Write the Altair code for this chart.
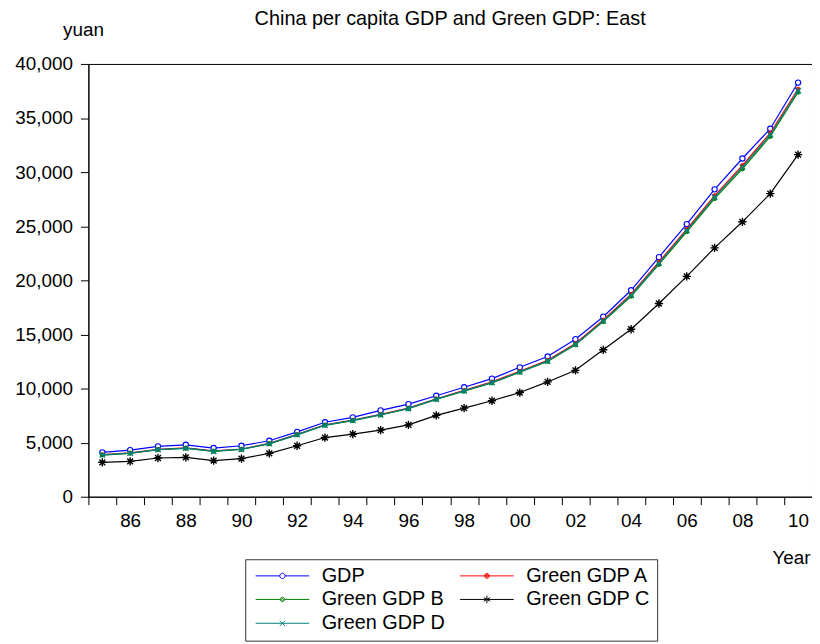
import altair as alt
import pandas as pd

FONT = "Liberation Sans"

years = list(range(1985, 2011))
series_names = ["GDP", "Green GDP A", "Green GDP B", "Green GDP C", "Green GDP D"]

gdp = [4100, 4310, 4650, 4800, 4500, 4710, 5170, 5990, 6880, 7340, 7980, 8560, 9330,
       10120, 10920, 11960, 12960, 14560, 16640, 19080, 22140, 25200, 28410, 31260, 34010, 38280]
green_a = [3890, 4050, 4380, 4510, 4230, 4410, 4930, 5760, 6650, 7080, 7610, 8190, 9060,
           9830, 10610, 11600, 12610, 14170, 16330, 18720, 21700, 24740, 27830, 30620, 33620, 37680]
green_b = [3850, 4010, 4340, 4470, 4190, 4370, 4890, 5720, 6600, 7030, 7550, 8130, 8990,
           9750, 10520, 11500, 12500, 14040, 16180, 18530, 21470, 24490, 27550, 30300, 33300, 37380]
green_c = [3180, 3270, 3580, 3640, 3330, 3520, 4010, 4710, 5470, 5780, 6150, 6640, 7520,
           8190, 8870, 9630, 10610, 11680, 13580, 15480, 17860, 20370, 23000, 25410, 28010, 31620]
green_d = [3870, 4030, 4360, 4490, 4210, 4390, 4910, 5740, 6630, 7060, 7580, 8160, 9020,
           9790, 10560, 11540, 12550, 14100, 16250, 18620, 21580, 24610, 27690, 30460, 33460, 37520]

line_colors = ["#0000ff", "#ff0000", "#008000", "#000000", "#008080"]
y_tick_values = [0, 5000, 10000, 15000, 20000, 25000, 30000, 35000, 40000]
x_tick_values = [y - 0.5 for y in range(1985, 2012)]

all_values = [gdp, green_a, green_b, green_c, green_d]
df = pd.DataFrame({
    "year": years * len(series_names),
    "value": [v for vals in all_values for v in vals],
    "series": [s for s in series_names for _ in years],
})

# marker styles for the plot (shape, filled, fill, size, strokeWidth)
ASTERISK = "M-1,0L1,0M0,-1L0,1M-0.7,-0.7L0.7,0.7M-0.7,0.7L0.7,-0.7"
XMARK = "M-1,-1L1,1M-1,1L1,-1"
marker_styles = [
    dict(shape="circle", filled=True, fill="white", size=28, strokeWidth=1.1),
    dict(shape="circle", filled=True, fill="#ff0000", size=14, strokeWidth=1),
    dict(shape="circle", filled=True, fill="#008000", size=16, strokeWidth=1),
    dict(shape=ASTERISK, filled=False, size=70, strokeWidth=1.4),
    dict(shape=XMARK, filled=False, size=30, strokeWidth=1.4),
]

# legend symbols: line + marker in one path
legend_paths = [
    "M-1,0L-0.1,0M0.1,0L1,0M-0.1,0A0.1,0.1,0,1,1,0.1,0A0.1,0.1,0,1,1,-0.1,0",
    "M-1,0L1,0M-0.09,0A0.09,0.09,0,1,1,0.09,0A0.09,0.09,0,1,1,-0.09,0"
    "M-0.05,0A0.05,0.05,0,1,1,0.05,0A0.05,0.05,0,1,1,-0.05,0",
    "M-1,0L-0.08,0M0.08,0L1,0M-0.08,0A0.08,0.08,0,1,1,0.08,0A0.08,0.08,0,1,1,-0.08,0"
    "M-0.04,0A0.04,0.04,0,1,1,0.04,0A0.04,0.04,0,1,1,-0.04,0",
    "M-1,0L1,0M0,-0.14L0,0.14M-0.12,-0.07L0.12,0.07M-0.12,0.07L0.12,-0.07",
    "M-1,0L1,0M-0.1,-0.1L0.1,0.1M-0.1,0.1L0.1,-0.1",
]

x_enc = alt.X(
    "year:Q",
    scale=alt.Scale(domain=[1984.5, 2010.5], nice=False, zero=False),
    axis=alt.Axis(
        values=x_tick_values,
        labelExpr="(datum.value + 0.5) % 2 == 0 ? slice(toString(datum.value + 0.5), 2) : ''",
        labelOffset=14,
        labelFlush=False,
        labelOverlap=False,
        tickSize=8,
        labelPadding=7,
        grid=False,
        title="Year",
        titleX=727,
        titleY=67,
        titleAlign="right",
        titleBaseline="alphabetic",
    ),
)
y_enc = alt.Y(
    "value:Q",
    scale=alt.Scale(domain=[0, 40000], nice=False),
    axis=alt.Axis(
        values=y_tick_values,
        format=",d",
        tickSize=8,
        labelPadding=8,
        grid=False,
        title="yuan",
        titleAngle=0,
        titleX=-26,
        titleY=-29,
        titleAlign="left",
        titleBaseline="alphabetic",
    ),
)

base = alt.Chart(df)
layers = []
for name, col, st in zip(series_names, line_colors, marker_styles):
    sub = base.transform_filter(alt.datum.series == name)
    layers.append(sub.mark_line(color=col, strokeWidth=1.2).encode(x=x_enc, y=y_enc))
    if st["filled"]:
        pt = sub.mark_point(shape=st["shape"], filled=True, fill=st["fill"], stroke=col,
                            size=st["size"], strokeWidth=st["strokeWidth"], opacity=1)
    else:
        pt = sub.mark_point(shape=st["shape"], filled=False, stroke=col,
                            size=st["size"], strokeWidth=st["strokeWidth"], opacity=1)
    layers.append(pt.encode(x=x_enc, y=y_enc))

legend_spec = alt.Legend(
    title=None,
    orient="none",
    direction="horizontal",
    legendX=158,
    legendY=499,
    columns=2,
    padding=7,
    strokeColor="#333333",
    fillColor="white",
    symbolSize=2916,
    symbolStrokeWidth=1,
    clipHeight=19,
    symbolOffset=3,
    labelOffset=12,
    labelFont=FONT,
    labelFontSize=20,
    labelColor="black",
    rowPadding=3,
    columnPadding=11,
)

legend_layer = base.transform_filter("datum.value < 0").mark_point(
    filled=False, opacity=1, strokeWidth=1, size=2916
).encode(
    x=x_enc,
    y=y_enc,
    color=alt.Color("series:N", scale=alt.Scale(domain=series_names, range=line_colors), legend=legend_spec),
    shape=alt.Shape("series:N", scale=alt.Scale(domain=series_names, range=legend_paths), legend=legend_spec),
)
layers.append(legend_layer)

chart = alt.layer(*layers).properties(
    width=729,
    height=436,
    autosize=alt.AutoSizeParams(type="none"),
    padding={"left": 81, "top": 54, "right": 0, "bottom": 144},
    title=alt.Title(
        "China per capita GDP and Green GDP: East",
        font=FONT,
        fontSize=20,
        fontWeight="normal",
        color="black",
        anchor="middle",
        offset=0,
        dy=9,
    ),
).configure_view(
    stroke="black", strokeWidth=1
).configure_axis(
    domainColor="black",
    tickColor="black",
    labelColor="black",
    titleColor="black",
    labelFont=FONT,
    titleFont=FONT,
    labelFontSize=19,
    titleFontSize=19,
    titleFontWeight="normal",
    domainWidth=1,
    tickWidth=1,
)

chart.save("out.html", embed_options={"renderer": "svg", "actions": False})
